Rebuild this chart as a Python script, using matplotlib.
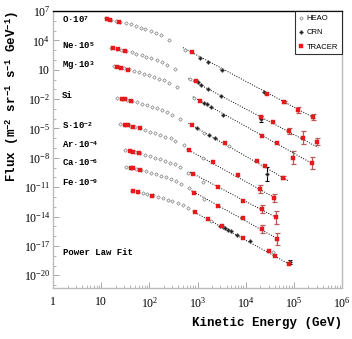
import numpy as np
import matplotlib
matplotlib.use("Agg")
import matplotlib.pyplot as plt
from matplotlib.lines import Line2D

# --- data (flux already multiplied by the label factor) ---
# energies in GeV, fluxes in m^-2 sr^-1 s^-1 GeV^-1, errors in decades

O_HEAO_E = [12.3, 15.8, 20.0, 25.1, 32.4, 40.7, 52.5, 66.1, 83.2, 107, 138, 174, 257, 550, 3020]
O_HEAO_F = [1.78e6, 1.35e6, 1.05e6, 7.94e5, 6.03e5, 4.37e5, 2.95e5, 2.0e5, 1.45e5, 9.12e4, 6.17e4, 3.31e4, 1.12e4, 1.05e3, 11.2]
O_CRN_E = [1120, 1620, 3160, 24000]
O_CRN_F = [148, 57.5, 9.55, 5.01e-2]
O_CRN_ERR = [0, 0, 0, 0]
O_TRACER_E = [13.5, 15.1, 24.0, 759, 28200, 63100, 123000, 245000]
O_TRACER_F = [1.51e6, 1.29e6, 7.59e5, 617, 3.16e-2, 4.79e-3, 7.94e-4, 1.41e-4]
O_TRACER_ERR = [0, 0, 0, 0, 0, 0.1, 0.34, 0.3]

NE_HEAO_E = [16.2, 20.9, 26.3, 33.1, 42.7, 53.7, 69.2, 87.1, 110, 141, 182, 229, 339, 692]
NE_HEAO_F = [1.82e3, 1.38e3, 1.07e3, 813, 617, 447, 302, 204, 148, 93.3, 63.1, 33.9, 11.5, 1.15]
NE_CRN_E = [1020, 1200, 1620, 3020, 20900]
NE_CRN_F = [0.525, 0.282, 0.102, 2.14e-2, 8.91e-5]
NE_CRN_ERR = [0, 0, 0, 0, 0.3]
NE_TRACER_E = [17.8, 21.9, 30.9, 933, 20900, 36300, 79400, 155000, 302000]
NE_TRACER_F = [1.82e3, 1.41e3, 891, 0.724, 1.62e-4, 4.37e-5, 5.25e-6, 1.17e-6, 4.57e-7]
NE_TRACER_ERR = [0, 0, 0, 0, 0, 0, 0.3, 0.65, 0.35]

MG_HEAO_E = [18.2, 23.4, 29.5, 37.2, 47.9, 60.3, 77.6, 97.7, 123, 158, 204, 257, 380, 851]
MG_HEAO_F = [24.5, 18.6, 14.5, 11.0, 8.32, 6.03, 4.07, 2.75, 2.0, 1.26, 0.851, 0.457, 0.155, 1.41e-2]
MG_CRN_E = [1380, 1550, 1950, 3390]
MG_CRN_F = [4.37e-3, 3.24e-3, 1.48e-3, 2.45e-4]
MG_CRN_ERR = [0, 0, 0, 0]
MG_TRACER_E = [20.9, 26.3, 36.3, 1150, 21900, 43700, 97700, 240000]
MG_TRACER_F = [20.9, 16.2, 9.55, 7.08e-3, 1.91e-6, 3.16e-7, 1.07e-8, 2.88e-9]
MG_TRACER_ERR = [0, 0, 0, 0, 0, 0, 0.65, 0.6]

SI_HEAO_E = [20.9, 26.9, 33.9, 42.7, 55.0, 69.2, 89.1, 112, 141, 182, 234, 295, 437, 1350, 4570]
SI_HEAO_F = [1.41e-2, 1.07e-2, 8.32e-3, 6.31e-3, 4.79e-3, 3.47e-3, 2.34e-3, 1.58e-3, 1.15e-3, 7.24e-4, 4.90e-4, 2.63e-4, 8.91e-5, 3.80e-6, 1.66e-7]
SI_CRN_E = [977, 1740, 2290, 28200]
SI_CRN_F = [1.07e-5, 2.24e-6, 1.02e-6, 2.19e-10]
SI_CRN_ERR = [0, 0, 0, 0.68]
SI_TRACER_E = [26.9, 30.9, 41.7, 759, 3720, 17400, 25700, 58900]
SI_TRACER_F = [1.12e-2, 1.0e-2, 7.08e-3, 2.34e-5, 3.16e-7, 4.90e-9, 1.51e-9, 9.77e-11]
SI_TRACER_ERR = [0, 0, 0, 0, 0, 0, 0, 0.15]

S_HEAO_E = [24.5, 31.6, 39.8, 50.1, 64.6, 81.3, 105, 132, 166, 214, 275, 347, 513, 1320]
S_HEAO_F = [2.95e-5, 2.24e-5, 1.74e-5, 1.32e-5, 1.0e-5, 7.24e-6, 4.90e-6, 3.31e-6, 2.40e-6, 1.51e-6, 1.02e-6, 5.50e-7, 1.86e-7, 1.07e-8]
S_CRN_E = []
S_CRN_F = []
S_CRN_ERR = []
S_TRACER_E = [30.9, 36.3, 46.8, 63.1, 661, 2140, 6920, 19500, 38900]
S_TRACER_F = [2.51e-5, 2.19e-5, 1.58e-5, 1.0e-5, 6.61e-8, 4.17e-9, 1.86e-10, 6.92e-12, 7.76e-13]
S_TRACER_ERR = [0, 0, 0, 0, 0, 0, 0, 0.4, 0.45]

AR_HEAO_E = [30.9, 39.8, 50.1, 63.1, 81.3, 102, 132, 166, 209, 269, 347, 437, 646, 1320]
AR_HEAO_F = [6.31e-8, 4.79e-8, 3.72e-8, 2.82e-8, 2.14e-8, 1.55e-8, 1.05e-8, 7.08e-9, 5.13e-9, 3.24e-9, 2.19e-9, 1.17e-9, 2.63e-10, 3.31e-11]
AR_CRN_E = []
AR_CRN_F = []
AR_CRN_ERR = []
AR_TRACER_E = [39.8, 45.7, 60.3, 813, 2690, 8910, 21400, 42700]
AR_TRACER_F = [5.01e-8, 4.37e-8, 3.16e-8, 2.34e-10, 1.17e-11, 4.37e-13, 5.89e-14, 8.13e-15]
AR_TRACER_ERR = [0, 0, 0, 0, 0, 0, 0.4, 0.65]

CA_HEAO_E = [32.4, 41.7, 52.5, 66.1, 85.1, 107, 138, 174, 219, 282, 363, 457, 676, 1350]
CA_HEAO_F = [1.26e-9, 9.55e-10, 7.41e-10, 5.62e-10, 4.27e-10, 3.09e-10, 2.09e-10, 1.41e-10, 1.02e-10, 6.46e-11, 4.37e-11, 2.34e-11, 7.94e-12, 6.61e-13]
CA_CRN_E = []
CA_CRN_F = []
CA_CRN_ERR = []
CA_TRACER_E = [40.7, 46.8, 63.1, 851, 2690, 8910, 21400, 43700]
CA_TRACER_F = [1.0e-9, 8.71e-10, 6.31e-10, 2.88e-12, 1.26e-13, 7.08e-15, 5.25e-16, 5.01e-17]
CA_TRACER_ERR = [0, 0, 0, 0, 0, 0, 0.4, 0.65]

FE_HEAO_E = [44.7, 57.5, 72.4, 91.2, 117, 148, 191, 240, 302, 389, 501, 631, 1950, 36300]
FE_HEAO_F = [4.27e-12, 3.24e-12, 2.51e-12, 1.91e-12, 1.45e-12, 1.05e-12, 7.08e-13, 4.79e-13, 3.47e-13, 2.19e-13, 1.48e-13, 7.94e-14, 3.16e-15, 2.19e-18]
FE_CRN_E = [2880, 3390, 3800, 4370, 4900, 6460, 12300, 85100]
FE_CRN_F = [1.15e-15, 7.94e-16, 6.17e-16, 4.47e-16, 3.16e-16, 1.38e-16, 2.88e-17, 2.09e-19]
FE_CRN_ERR = [0, 0, 0, 0, 0, 0, 0, 0.2]
FE_TRACER_E = [46.8, 58.9, 112, 891, 1660, 3160, 8710, 30900, 40700, 79400]
FE_TRACER_F = [4.27e-12, 3.63e-12, 1.32e-12, 2.63e-14, 5.50e-15, 9.77e-16, 6.46e-17, 3.24e-18, 1.0e-18, 1.41e-19]
FE_TRACER_ERR = [0, 0, 0, 0, 0, 0, 0, 0, 0, 0]

SPECIES_LABELS = ["O·10$^{\\mathtt{7}}$", "Ne·10$^{\\mathtt{5}}$", "Mg·10$^{\\mathtt{3}}$", "Si",
                  "S·10$^{\\mathtt{-2}}$", "Ar·10$^{\\mathtt{-4}}$", "Ca·10$^{\\mathtt{-6}}$", "Fe·10$^{\\mathtt{-9}}$"]

# power law fits: F = norm * E^-index, drawn over [emin, emax]
FIT_NORM = [2.45e10, 3.02e7, 1.66e6, 3.09e3, 2.82, 8.13e-3, 3.55e-4, 2.43e-6]
FIT_INDEX = [2.64, 2.62, 2.75, 2.83, 2.72, 2.59, 2.75, 2.70]
FIT_EMIN = [500, 650, 800, 650, 600, 700, 750, 800]
FIT_EMAX = [2.9e5, 3.2e5, 2.6e5, 8.0e4, 4.5e4, 4.5e4, 4.5e4, 9.0e4]

heao = [(O_HEAO_E, O_HEAO_F), (NE_HEAO_E, NE_HEAO_F), (MG_HEAO_E, MG_HEAO_F), (SI_HEAO_E, SI_HEAO_F),
        (S_HEAO_E, S_HEAO_F), (AR_HEAO_E, AR_HEAO_F), (CA_HEAO_E, CA_HEAO_F), (FE_HEAO_E, FE_HEAO_F)]
crn = [(O_CRN_E, O_CRN_F, O_CRN_ERR), (NE_CRN_E, NE_CRN_F, NE_CRN_ERR), (MG_CRN_E, MG_CRN_F, MG_CRN_ERR),
       (SI_CRN_E, SI_CRN_F, SI_CRN_ERR), (S_CRN_E, S_CRN_F, S_CRN_ERR), (AR_CRN_E, AR_CRN_F, AR_CRN_ERR),
       (CA_CRN_E, CA_CRN_F, CA_CRN_ERR), (FE_CRN_E, FE_CRN_F, FE_CRN_ERR)]
tracer = [(O_TRACER_E, O_TRACER_F, O_TRACER_ERR), (NE_TRACER_E, NE_TRACER_F, NE_TRACER_ERR),
          (MG_TRACER_E, MG_TRACER_F, MG_TRACER_ERR), (SI_TRACER_E, SI_TRACER_F, SI_TRACER_ERR),
          (S_TRACER_E, S_TRACER_F, S_TRACER_ERR), (AR_TRACER_E, AR_TRACER_F, AR_TRACER_ERR),
          (CA_TRACER_E, CA_TRACER_F, CA_TRACER_ERR), (FE_TRACER_E, FE_TRACER_F, FE_TRACER_ERR)]

plt.rcParams['mathtext.fontset'] = 'custom'
plt.rcParams['mathtext.rm'] = 'Liberation Serif'
plt.rcParams['mathtext.tt'] = 'Liberation Mono:bold'
plt.rcParams['mathtext.default'] = 'rm'

RED = '#e41a1c'
ERR_RED = '#b85a5a'
GRAY = '#bbbbbb'

# marker styles
HEAO_KW = dict(linestyle='none', marker='D', ms=1.8, mfc='white', mec='#808080', mew=0.5)
CRN_KW = dict(linestyle='none', marker='D', ms=2.2, mfc='#222222', mec='#777777', mew=0.4)
TRACER_KW = dict(linestyle='none', marker='s', ms=2.3, mfc=RED, mec=RED, mew=0.3)


def log_err(f, d):
    f = np.asarray(f, float)
    d = np.asarray(d, float)
    return np.vstack([f - f / 10**d, f * 10**d - f])


fig = plt.figure(figsize=(3.52, 3.39), dpi=100)
ax = fig.add_axes([0.1506, 0.1504, 0.821, 0.817])
ax.set_xscale('log')
ax.set_yscale('log')

for i in range(8):
    # fit line
    e = np.geomspace(FIT_EMIN[i], FIT_EMAX[i], 60)
    ax.plot(e, FIT_NORM[i] * e**-FIT_INDEX[i], color='black', lw=0.7,
            linestyle=(0, (1, 1.6)), zorder=2)

    he, hf = heao[i]
    ax.plot(he, hf, zorder=3, **HEAO_KW)

    ce, cf, cerr = crn[i]
    if len(ce):
        ce, cf, cerr = np.array(ce), np.array(cf), np.array(cerr)
        m = cerr > 0
        if m.any():
            ax.errorbar(ce[m], cf[m], yerr=log_err(cf[m], cerr[m]), fmt='none',
                        ecolor='black', elinewidth=0.8, capsize=1.5, capthick=0.8, zorder=4)
        ax.plot(ce, cf, zorder=4, **CRN_KW)

    te, tf, terr = np.array(tracer[i][0]), np.array(tracer[i][1]), np.array(tracer[i][2])
    m = terr > 0
    if m.any():
        ax.errorbar(te[m], tf[m], yerr=log_err(tf[m], terr[m]), fmt='none',
                    ecolor=ERR_RED, elinewidth=0.9, capsize=1.8, capthick=0.9, zorder=5)
    ax.plot(te, tf, zorder=6, **TRACER_KW)

# species labels
label_y = [1.5e6, 2.7e3, 2.5e1, 2.1e-2, 1.9e-5, 2.1e-7, 3.1e-9, 2.8e-11]
for lab, y in zip(SPECIES_LABELS, label_y):
    ax.text(1.55, y, lab, family='Liberation Mono', fontweight='bold', fontsize=6.5,
            va='center', ha='left')

ax.text(1.6, 2.2e-18, "Power Law Fit", family='Liberation Mono', fontweight='bold',
        fontsize=6.5, va='center', ha='left')

ax.set_xlim(1, 1e6)
ax.set_ylim(10**-21.3, 1e7)

ax.set_xticks([1, 10, 100, 1e3, 1e4, 1e5, 1e6])
ax.set_xticklabels(['1', '10', '$10^2$', '$10^3$', '$10^4$', '$10^5$', '$10^6$'])
yt = [10.0**k for k in range(7, -21, -3)]
ax.set_yticks(yt)
ax.set_yticklabels(['$10^{7}$', '$10^{4}$', '10', '$10^{-2}$', '$10^{-5}$', '$10^{-8}$',
                    '$10^{-11}$', '$10^{-14}$', '$10^{-17}$', '$10^{-20}$'])
ax.yaxis.set_minor_locator(matplotlib.ticker.LogLocator(base=10, subs=[1.0], numticks=40))
ax.yaxis.set_minor_formatter(matplotlib.ticker.NullFormatter())
ax.xaxis.set_minor_formatter(matplotlib.ticker.NullFormatter())

for lab in ax.get_xticklabels() + ax.get_yticklabels():
    lab.set_family('Liberation Serif')
    lab.set_fontsize(8.5)

ax.tick_params(which='both', direction='in', color='#999999', top=False, right=False)
ax.tick_params(which='major', length=4, width=0.6)
ax.tick_params(which='minor', length=2, width=0.5)
ax.tick_params(axis='x', pad=6)
ax.tick_params(axis='y', pad=2)

for side in ['left', 'bottom', 'right']:
    ax.spines[side].set_color(GRAY)
    ax.spines[side].set_linewidth(1.0)
ax.spines['top'].set_color('black')
ax.spines['top'].set_linewidth(1.0)

ax.set_xlabel('Kinetic Energy (GeV)', family='Liberation Mono', fontweight='bold',
              fontsize=9, loc='right', labelpad=4)
ax.set_ylabel('Flux (m$^{\\mathtt{-2}}$ sr$^{\\mathtt{-1}}$ s$^{\\mathtt{-1}}$ GeV$^{\\mathtt{-1}}$)',
              family='Liberation Mono', fontweight='bold', fontsize=9, loc='top', labelpad=2)

handles = [Line2D([], [], **HEAO_KW), Line2D([], [], **CRN_KW), Line2D([], [], **TRACER_KW)]
leg = ax.legend(handles, ['HEAO', 'CRN', 'TRACER'], loc='upper right',
                prop={'family': 'Liberation Sans', 'size': 5.5}, frameon=True, fancybox=False,
                borderaxespad=0, handlelength=0.6, handletextpad=0.4, labelspacing=0.9,
                borderpad=0.5)
leg.get_frame().set_edgecolor('black')
leg.get_frame().set_linewidth(0.8)

fig.savefig('out.png', dpi=100)
